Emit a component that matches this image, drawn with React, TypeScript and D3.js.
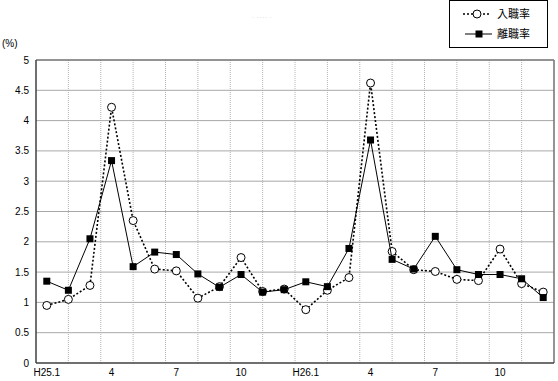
import React from "react";
import * as d3 from "d3";

const months = ["1","2","3","4","5","6","7","8","9","10","11","12","13","14","15","16","17","18","19","20","21","22","23","24"];
const tickLabels: Record<string, string> = { "1": "H25.1", "4": "4", "7": "7", "10": "10", "13": "H26.1", "16": "4", "19": "7", "22": "10" };
const hireRate = [0.95, 1.05, 1.28, 4.22, 2.35, 1.55, 1.52, 1.07, 1.26, 1.74, 1.18, 1.22, 0.88, 1.2, 1.41, 4.62, 1.84, 1.54, 1.51, 1.38, 1.36, 1.88, 1.31, 1.17];
const sepRate = [1.35, 1.2, 2.05, 3.34, 1.59, 1.83, 1.79, 1.47, 1.25, 1.46, 1.17, 1.21, 1.34, 1.26, 1.89, 3.68, 1.71, 1.55, 2.09, 1.54, 1.46, 1.46, 1.39, 1.08];
const yTicks = [0, 0.5, 1, 1.5, 2, 2.5, 3, 3.5, 4, 4.5, 5];
const seriesNames = ["入職率", "離職率"];
const vGridCount = 16;

const W = 558, H = 381;
const L = 36, R = 554, T = 60, B = 363;
const font = "'Liberation Sans', Arial, 'Noto Sans CJK JP', sans-serif";

export default function App() {
  const x = d3.scaleBand<string>().domain(months).range([L, R]).padding(0);
  const cx = (m: string) => (x(m) as number) + x.bandwidth() / 2;
  const y = d3.scaleLinear().domain([0, 5]).range([B, T]);
  const g = d3.scaleLinear().domain([0, vGridCount]).range([L, R]);
  const line = d3.line<number>().x((_, i) => cx(months[i])).y((d) => y(d));

  return (
    <svg width={W} height={H} style={{ position: "absolute", left: 0, top: 0, background: "#fff" }} fontFamily={font}>
      <rect x={0} y={0} width={W} height={H} fill="#fff" />
      <text x={262} y={20} fontSize={8} fill="#d8d8d8" textAnchor="middle">· ····  ·</text>
      {/* grid */}
      {d3.range(1, vGridCount).map((k) => (
        <line key={"v" + k} x1={g(k)} x2={g(k)} y1={T} y2={B} stroke="#b8b0b8" strokeWidth={1} strokeDasharray="1,1" />
      ))}
      {yTicks.filter((t) => t > 0 && t < 5).map((t) => (
        <line key={"h" + t} x1={L} x2={R} y1={y(t)} y2={y(t)} stroke="#a8a8a8" strokeWidth={1} />
      ))}
      {/* frame */}
      <line x1={L} x2={R} y1={T} y2={T} stroke="#707070" strokeWidth={1.5} />
      <line x1={R} x2={R} y1={T} y2={B} stroke="#707070" strokeWidth={1.5} />
      <line x1={L} x2={L} y1={T} y2={B} stroke="#404040" strokeWidth={1.5} />
      <line x1={L} x2={R} y1={B} y2={B} stroke="#404040" strokeWidth={1.5} />
      {/* y labels */}
      {yTicks.map((t) => (
        <text key={"yl" + t} x={29} y={y(t) + 3.5} fontSize={10} textAnchor="end" fill="#000">{t}</text>
      ))}
      <text x={2} y={47} fontSize={10} fill="#000">(%)</text>
      {/* x labels */}
      {months.filter((m) => tickLabels[m]).map((m) => (
        <text key={"xl" + m} x={cx(m)} y={376} fontSize={10} textAnchor="middle" fill="#000">{tickLabels[m]}</text>
      ))}
      {/* series 1 */}
      <path d={line(hireRate) || ""} fill="none" stroke="#000" strokeWidth={1.6} strokeDasharray="2,2" />
      {hireRate.map((v, i) => (
        <circle key={"c" + i} cx={cx(months[i])} cy={y(v)} r={4} fill="#fff" stroke="#000" strokeWidth={1} />
      ))}
      {/* series 2 */}
      <path d={line(sepRate) || ""} fill="none" stroke="#000" strokeWidth={1} />
      {sepRate.map((v, i) => (
        <rect key={"s" + i} x={cx(months[i]) - 3.5} y={y(v) - 3.5} width={7} height={7} fill="#000" />
      ))}
      {/* legend */}
      <rect x={449.5} y={0.5} width={98} height={47} fill="#fff" stroke="#000" strokeWidth={1} />
      <line x1={463} x2={491} y1={14} y2={14} stroke="#000" strokeWidth={1.6} strokeDasharray="2,2" />
      <circle cx={477} cy={14} r={4} fill="#fff" stroke="#000" strokeWidth={1} />
      <text x={497} y={18} fontSize={11} fill="#000" fontFamily="'Noto Sans CJK JP', sans-serif">{seriesNames[0]}</text>
      <line x1={465} x2={492} y1={34} y2={34} stroke="#000" strokeWidth={1} />
      <rect x={475.5} y={30.5} width={7} height={7} fill="#000" />
      <text x={497} y={38} fontSize={11} fill="#000" fontFamily="'Noto Sans CJK JP', sans-serif">{seriesNames[1]}</text>
    </svg>
  );
}
